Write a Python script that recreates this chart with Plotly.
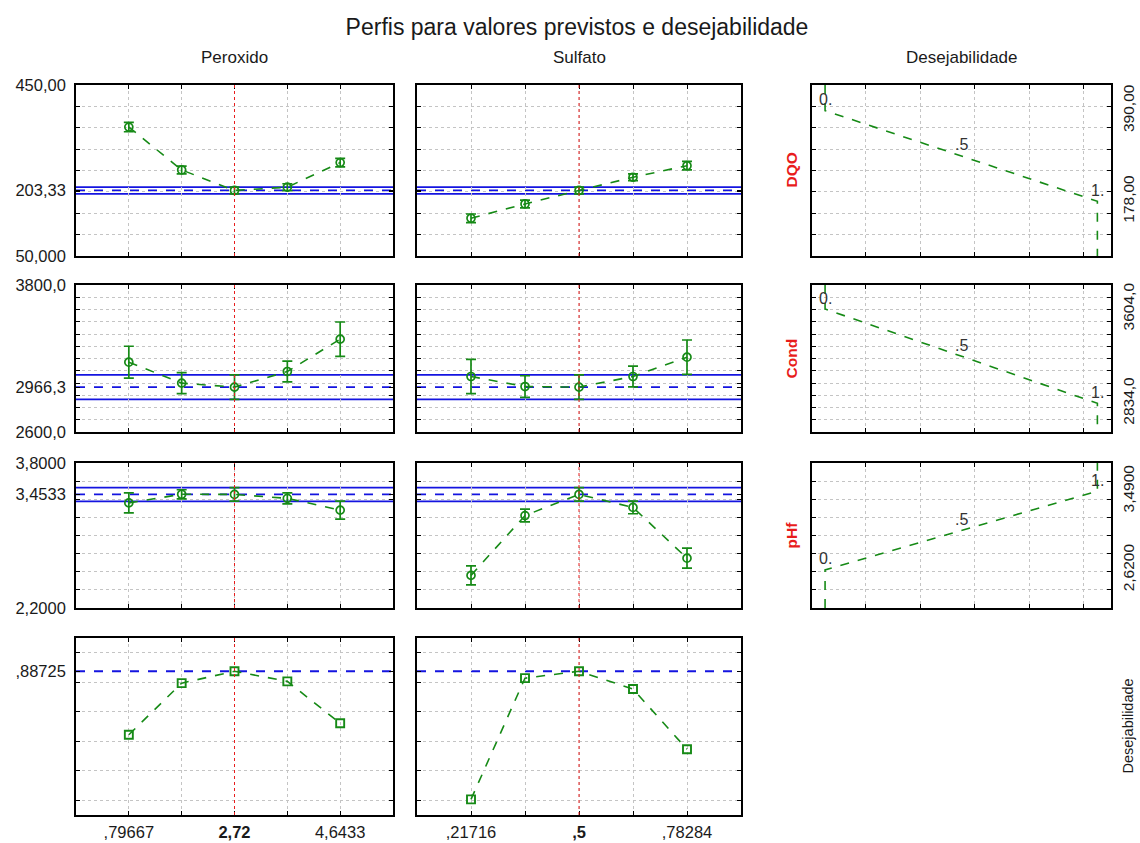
import plotly.graph_objects as go

# ---- factor levels (x axes) ----
perox_levels = [0.79667, 1.75833, 2.72, 3.68167, 4.6433]
perox_labels = [",79667", "", "<b>2,72</b>", "", "4,6433"]
sulf_levels = [0.21716, 0.35858, 0.5, 0.64142, 0.78284]
sulf_labels = [",21716", "", "<b>,5</b>", "", ",78284"]

# ---- predicted responses with confidence half-widths ----
dqo_perox = [351.6, 251.3, 203.33, 211.0, 268.5]
dqo_perox_ci = [11, 9, 8, 8, 10]
dqo_sulf = [138.3, 171.8, 203.33, 234.2, 261.3]
dqo_sulf_ci = [10, 9, 8, 8, 10]
cond_perox = [3170, 2999, 2966.3, 3094, 3358]
cond_perox_ci = [130, 85, 100, 85, 140]
cond_sulf = [3053, 2971, 2966.3, 3053, 3211]
cond_sulf_ci = [140, 88, 100, 85, 140]
ph_perox = [3.36, 3.455, 3.4533, 3.41, 3.28]
ph_perox_ci = [0.11, 0.05, 0.075, 0.06, 0.10]
ph_sulf = [2.56, 3.22, 3.4533, 3.31, 2.75]
ph_sulf_ci = [0.105, 0.07, 0.075, 0.07, 0.11]
des_perox = [0.672, 0.847, 0.88725, 0.853, 0.711]
des_sulf = [0.453, 0.864, 0.88725, 0.827, 0.623]

# ---- current predictions and their confidence half-widths ----
pred_dqo, ci_dqo = 203.33, 8.0
pred_cond, ci_cond = 2966.3, 100.0
pred_ph, ci_ph = 3.4533, 0.076
pred_des = 0.88725

# ---- desirability functions: response value at d = 0, .5, 1 ----
des_d = [0.0, 0.5, 1.0]
des_text = ["0.", ".5", "1."]
dqo_fn = [390.0, 284.0, 178.0]
cond_fn = [3604.0, 3219.0, 2834.0]
ph_fn = [2.62, 3.055, 3.49]

W, H = 1140, 843
GREEN = "#168a16"
BLUE = "#1414e0"
RED = "#e81c1c"
GRID = "#c4c4c4"
INK = "#1a1a1a"
FONT = "Liberation Sans, Arial, sans-serif"
TICKFONT = dict(family=FONT, size=16.5, color=INK)

col_px = [(76, 393), (417, 741), (812, 1111)]
row_px = [(85, 256), (285, 432), (463, 608), (638, 815)]


def xdom(c):
    a, b = col_px[c]
    return [a / W, b / W]


def ydom(r):
    t, b = row_px[r]
    return [1 - b / H, 1 - t / H]


rows = [
    dict(label="DQO", rng=[50, 450], grid=[100, 150, 200, 250, 300, 350, 400],
         tv=[50, pred_dqo, 450], tt=["50,000", "203,33", "450,00"],
         perox=dqo_perox, perox_ci=dqo_perox_ci, sulf=dqo_sulf, sulf_ci=dqo_sulf_ci,
         pred=pred_dqo, ci=ci_dqo, fn=dqo_fn, fn_tt=["390,00", "178,00"]),
    dict(label="Cond", rng=[2600, 3800], grid=[2700, 2800, 2900, 3000, 3100, 3200, 3300, 3400, 3500, 3600, 3700],
         tv=[2600, pred_cond, 3800], tt=["2600,0", "2966,3", "3800,0"],
         perox=cond_perox, perox_ci=cond_perox_ci, sulf=cond_sulf, sulf_ci=cond_sulf_ci,
         pred=pred_cond, ci=ci_cond, fn=cond_fn, fn_tt=["3604,0", "2834,0"]),
    dict(label="pHf", rng=[2.2, 3.8], grid=[2.4, 2.6, 2.8, 3.0, 3.2, 3.4, 3.6],
         tv=[2.2, pred_ph, 3.8], tt=["2,2000", "3,4533", "3,8000"],
         perox=ph_perox, perox_ci=ph_perox_ci, sulf=ph_sulf, sulf_ci=ph_sulf_ci,
         pred=pred_ph, ci=ci_ph, fn=ph_fn, fn_tt=["2,6200", "3,4900"]),
    dict(label="Desejabilidade", rng=[0.4, 1.0], grid=[0.45, 0.55, 0.65, 0.75, 0.85, 0.95],
         tv=[pred_des], tt=[",88725"],
         perox=des_perox, sulf=des_sulf, pred=pred_des),
]

factors = [
    dict(levels=perox_levels, labels=perox_labels),
    dict(levels=sulf_levels, labels=sulf_labels),
]
des_grid = [0.15, 0.35, 0.55, 0.75, 0.95]


def base_axis(**kw):
    d = dict(showline=True, linecolor="black", linewidth=1.6, mirror="ticks",
             ticks="inside", ticklen=4, tickcolor="black", tickwidth=1,
             showgrid=False, zeroline=False, fixedrange=True, automargin=False,
             tickfont=TICKFONT)
    d.update(kw)
    return d


def minor_grid(vals):
    return dict(tickmode="array", tickvals=vals, ticks="inside", ticklen=4,
                tickcolor="black", showgrid=True, gridcolor=GRID,
                griddash="dot", gridwidth=1)


fig = go.Figure()
layout = {}
shapes = []
annotations = []
idx = 0
for r, row in enumerate(rows):
    for c in range(3):
        if r == 3 and c == 2:
            continue
        idx += 1
        sfx = "" if idx == 1 else str(idx)
        xname, yname = "x" + sfx, "y" + sfx

        # ---- x axis ----
        if c < 2:
            f = factors[c]
            lv = f["levels"]
            step = lv[1] - lv[0]
            xax = base_axis(domain=xdom(c), anchor=yname,
                            range=[lv[0] - step, lv[-1] + step],
                            tickmode="array", tickvals=lv,
                            ticktext=f["labels"], showticklabels=(r == 3),
                            ticklabelstandoff=1,
                            showgrid=True, gridcolor=GRID, griddash="dot", gridwidth=1)
        else:
            xax = base_axis(domain=xdom(c), anchor=yname, range=[-0.048, 1.05],
                            tickmode="array", tickvals=des_grid, showticklabels=False,
                            showgrid=True, gridcolor=GRID, griddash="dot", gridwidth=1)
        layout["xaxis" + sfx] = xax

        # ---- y axis ----
        if c == 0:
            yax = base_axis(domain=ydom(r), anchor=xname, range=row["rng"],
                            tickmode="array", tickvals=row["tv"], ticktext=row["tt"],
                            minor=minor_grid(row["grid"]), ticklabelstandoff=5)
        elif c == 1:
            yax = base_axis(domain=ydom(r), anchor=xname, range=row["rng"],
                            tickmode="array", tickvals=row["tv"], showticklabels=False,
                            minor=minor_grid(row["grid"]))
        else:
            fn = row["fn"]
            yax = base_axis(domain=ydom(r), anchor=xname, range=row["rng"], side="right",
                            tickmode="array", tickvals=[fn[0], fn[2]], ticktext=row["fn_tt"],
                            tickangle=-90, ticks="", minor=minor_grid(row["grid"]),
                            ticklabelstandoff=3,
                            tickfont=dict(family=FONT, size=15.5, color=INK))
        layout["yaxis" + sfx] = yax

        # ---- marks ----
        if c < 2:
            lv = factors[c]["levels"]
            key = "perox" if c == 0 else "sulf"
            # current factor setting
            shapes.append(dict(type="line", xref=xname, yref="paper",
                               x0=lv[2], x1=lv[2], y0=ydom(r)[0], y1=ydom(r)[1],
                               layer="above",
                               line=dict(color=RED, width=1, dash="dot")))
            # prediction and its confidence band
            if r < 3:
                for val, dash in ((row["pred"] + row["ci"], "solid"),
                                  (row["pred"], "dash"),
                                  (row["pred"] - row["ci"], "solid")):
                    shapes.append(dict(type="line", xref="paper", yref=yname,
                                       x0=xdom(c)[0], x1=xdom(c)[1], y0=val, y1=val,
                                       layer="below",
                                       line=dict(color=BLUE, width=1.8, dash=dash)))
                fig.add_trace(go.Scatter(
                    x=lv, y=row[key], xaxis=xname, yaxis=yname, mode="lines+markers",
                    line=dict(color=GREEN, width=1.6, dash="dash"),
                    marker=dict(symbol="circle-open", size=8, color=GREEN,
                                line=dict(width=1.7, color=GREEN)),
                    error_y=dict(type="data", array=row[key + "_ci"], color=GREEN,
                                 thickness=1.7, width=5),
                    showlegend=False, hoverinfo="x+y"))
            else:
                shapes.append(dict(type="line", xref="paper", yref=yname,
                                   x0=xdom(c)[0], x1=xdom(c)[1],
                                   y0=row["pred"], y1=row["pred"], layer="below",
                                   line=dict(color=BLUE, width=1.8, dash="dash")))
                fig.add_trace(go.Scatter(
                    x=lv, y=row[key], xaxis=xname, yaxis=yname, mode="lines+markers",
                    line=dict(color=GREEN, width=1.6, dash="dash"),
                    marker=dict(symbol="square-open", size=8, color=GREEN,
                                line=dict(width=1.9, color=GREEN)),
                    showlegend=False, hoverinfo="x+y"))
        else:
            fn = row["fn"]
            lo, hi = row["rng"]
            end0 = hi if fn[0] > fn[2] else lo
            end1 = lo if fn[0] > fn[2] else hi
            fig.add_trace(go.Scatter(
                x=[des_d[0], des_d[0], des_d[2], des_d[2]],
                y=[end0, fn[0], fn[2], end1],
                xaxis=xname, yaxis=yname, mode="lines",
                line=dict(color=GREEN, width=1.6, dash="dash"),
                showlegend=False, hoverinfo="x+y"))
            for d, v, t in zip(des_d, fn, des_text):
                annotations.append(dict(x=d, y=v, xref=xname, yref=yname, text=t,
                                        showarrow=False, yshift=11,
                                        font=dict(family=FONT, size=16, color="#333")))

# ---- column and row headers ----
col_titles = ["Peroxido", "Sulfato", "Desejabilidade"]
for c, t in enumerate(col_titles):
    a, b = col_px[c]
    annotations.append(dict(x=(a + b) / 2 / W, y=1 - 57 / H, xref="paper", yref="paper",
                            text=t, showarrow=False, xanchor="center", yanchor="middle",
                            font=dict(family=FONT, size=17, color=INK)))
for r, row in enumerate(rows):
    t, b = row_px[r]
    if r < 3:
        annotations.append(dict(x=791 / W, y=1 - (t + b) / 2 / H, xref="paper", yref="paper",
                                text="<b>" + row["label"] + "</b>", textangle=-90,
                                showarrow=False, xanchor="center", yanchor="middle",
                                font=dict(family=FONT, size=15.5, color=RED)))
    else:
        annotations.append(dict(x=1127 / W, y=1 - (t + b) / 2 / H, xref="paper", yref="paper",
                                text=row["label"], textangle=-90,
                                showarrow=False, xanchor="center", yanchor="middle",
                                font=dict(family=FONT, size=14.5, color=INK)))

fig.update_layout(
    width=W, height=H, margin=dict(l=0, r=0, t=0, b=0, autoexpand=False),
    paper_bgcolor="white", plot_bgcolor="white",
    title=dict(text="Perfis para valores previstos e desejabilidade",
               x=577 / W, y=1 - 27 / H, xanchor="center", yanchor="middle",
               font=dict(family=FONT, size=23, color=INK)),
    shapes=shapes, annotations=annotations, showlegend=False,
    **layout,
)

fig.write_html("out.html")
